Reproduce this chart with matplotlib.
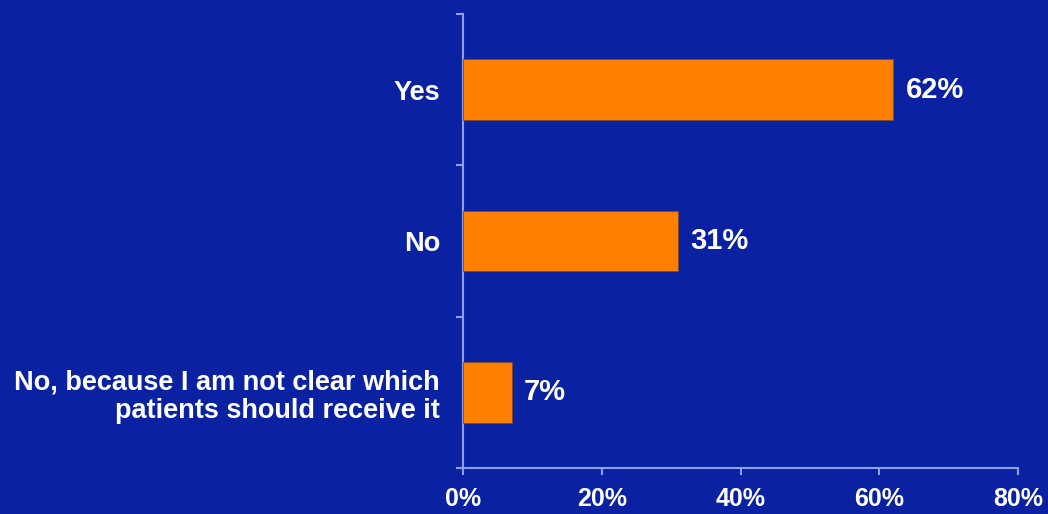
import matplotlib
matplotlib.use("Agg")
import matplotlib.pyplot as plt
import numpy as np

categories = ["Yes", "No", "No, because I am not clear which\npatients should receive it"]
values = [62, 31, 7]
xticks = [0, 20, 40, 60, 80]
xtick_labels = ["0%", "20%", "40%", "60%", "80%"]

BG = "#0a21a2"
ORANGE = "#ff8000"
SPINE = "#909ee8"

plt.rcParams['font.family'] = ['Liberation Sans', 'DejaVu Sans']
plt.rcParams['font.weight'] = 'bold'

fig = plt.figure(figsize=(10.48, 5.14), dpi=100, facecolor=BG)
ax = fig.add_axes([463/1048, 1-468/514, (1018-463)/1048, (468-14)/514])
ax.set_facecolor(BG)

y = np.arange(len(categories))
ax.barh(y, values, height=0.4, color=ORANGE, edgecolor="#7a4a30", linewidth=0.6, zorder=3)
ax.set_ylim(len(categories) - 0.5, -0.5)
ax.set_xlim(0, 80)

for yi, v in zip(y, values):
    ax.text(v + 1.8, yi, f"{v}%", va='center', ha='left', color='white',
            fontsize=21, fontweight='bold')

ax.set_yticks(y)
ax.set_yticklabels(categories, fontsize=19.5, fontweight='bold', color='white', linespacing=1.15)
ax.tick_params(axis='y', which='major', length=0, pad=16.5)
ax.set_yticks(np.arange(-0.5, len(categories)), minor=True)
ax.tick_params(axis='y', which='minor', length=5, width=1.5, color=SPINE, direction='out')

ax.set_xticks(xticks)
ax.set_xticklabels(xtick_labels, fontsize=18, fontweight='bold', color='white')
ax.tick_params(axis='x', which='major', length=5, width=1.5, color=SPINE, direction='out', pad=9)

for s in ['top', 'right']:
    ax.spines[s].set_visible(False)
for s in ['left', 'bottom']:
    ax.spines[s].set_color(SPINE)
    ax.spines[s].set_linewidth(1.5)

fig.savefig("out.png", dpi=100, facecolor=BG)
